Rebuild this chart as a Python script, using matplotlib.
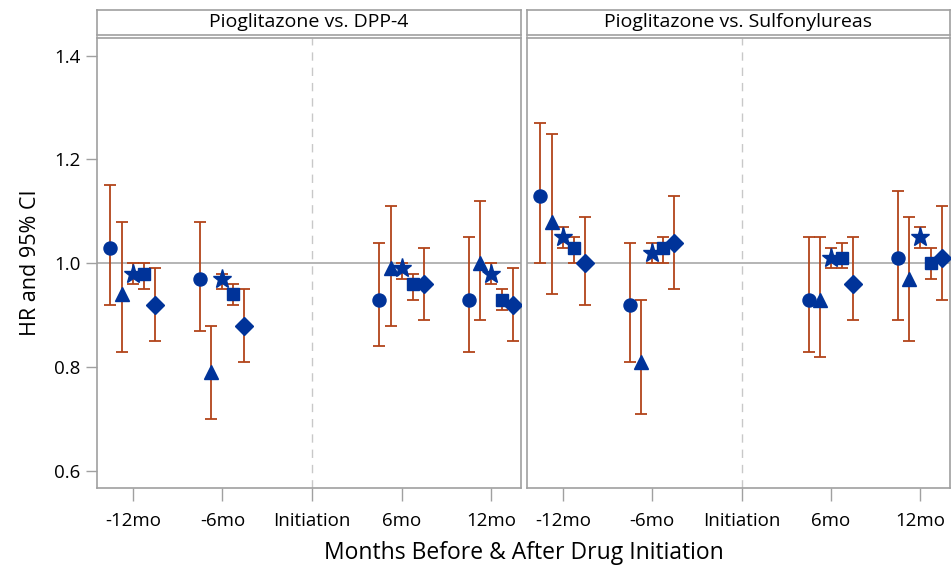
import numpy as np
import matplotlib
matplotlib.use('Agg')
import matplotlib.pyplot as plt

plt.rcParams['font.family'] = ['Open Sans', 'DejaVu Sans']

time_labels = ['-12mo', '-6mo', 'Initiation', '6mo', '12mo']
time_pos = [1, 2, 4, 5]          # -12mo, -6mo, 6mo, 12mo (no estimate at initiation)
panels = ['Pioglitazone vs. DPP-4', 'Pioglitazone vs. Sulfonylureas']

# one row per marker series (circle, triangle, star, square, diamond)
# columns follow time_pos
dpp4_hr = [[1.03, 0.97, 0.93, 0.93],
           [0.94, 0.79, 0.99, 1.00],
           [0.98, 0.97, 0.99, 0.98],
           [0.98, 0.94, 0.96, 0.93],
           [0.92, 0.88, 0.96, 0.92]]
dpp4_lo = [[0.92, 0.87, 0.84, 0.83],
           [0.83, 0.70, 0.88, 0.89],
           [0.96, 0.95, 0.97, 0.96],
           [0.95, 0.92, 0.93, 0.91],
           [0.85, 0.81, 0.89, 0.85]]
dpp4_hi = [[1.15, 1.08, 1.04, 1.05],
           [1.08, 0.88, 1.11, 1.12],
           [1.00, 0.98, 1.00, 1.00],
           [1.00, 0.96, 0.98, 0.95],
           [0.99, 0.95, 1.03, 0.99]]

su_hr = [[1.13, 0.92, 0.93, 1.01],
         [1.08, 0.81, 0.93, 0.97],
         [1.05, 1.02, 1.01, 1.05],
         [1.03, 1.03, 1.01, 1.00],
         [1.00, 1.04, 0.96, 1.01]]
su_lo = [[1.00, 0.81, 0.83, 0.89],
         [0.94, 0.71, 0.82, 0.85],
         [1.03, 1.00, 0.99, 1.03],
         [1.00, 1.00, 0.99, 0.97],
         [0.92, 0.95, 0.89, 0.93]]
su_hi = [[1.27, 1.04, 1.05, 1.14],
         [1.25, 0.93, 1.05, 1.09],
         [1.07, 1.04, 1.03, 1.07],
         [1.05, 1.05, 1.04, 1.03],
         [1.09, 1.13, 1.05, 1.11]]

data = [(dpp4_hr, dpp4_lo, dpp4_hi), (su_hr, su_lo, su_hi)]

markers = ['o', '^', '*', 's', 'D']
msizes = [9.4, 9.8, 14, 8.8, 9.2]
offsets = [-0.25, -0.125, 0.0, 0.12, 0.245]
mcol = '#003399'
ecol = '#B2441A'
gcol = '#A0A0A0'

W, H = 952, 572
fig = plt.figure(figsize=(W / 100, H / 100), dpi=100)

panel_px = [(97, 521), (527, 950)]
top, bot = 37.5, 488
for k, (x0, x1) in enumerate(panel_px):
    ax = fig.add_axes([x0 / W, (H - bot) / H, (x1 - x0) / W, (bot - top) / H])
    hr, lo, hi = [np.array(a) for a in data[k]]
    ax.axhline(1.0, color=gcol, lw=1.1, zorder=1)
    ax.axvline(3, color='#C8C8C8', lw=1, ls=(0, (6, 5)), zorder=1)
    for i in range(5):
        x = np.array(time_pos) + offsets[i]
        ax.errorbar(x, hr[i], yerr=[hr[i] - lo[i], hi[i] - hr[i]], fmt='none',
                    ecolor=ecol, elinewidth=1.3, capsize=4.5, capthick=1.3, zorder=2)
        ax.plot(x, hr[i], ls='none', marker=markers[i], ms=msizes[i],
                color=mcol, mec=mcol, zorder=3)
    ax.set_xlim(0.6, 5.33)
    ax.set_ylim(0.567, 1.435)
    ax.set_xticks(range(1, 6))
    ax.set_xticklabels(time_labels, fontsize=13.5)
    ax.tick_params(axis='x', length=9, width=1, color=gcol, pad=8)
    if k == 0:
        ax.set_yticks([0.6, 0.8, 1.0, 1.2, 1.4])
        ax.set_yticklabels(['0.6', '0.8', '1.0', '1.2', '1.4'], fontsize=13.5)
        ax.tick_params(axis='y', length=8, width=1, color=gcol, pad=4)
        ax.set_ylabel('HR and 95% CI', fontsize=15.5, labelpad=9)
    else:
        ax.set_yticks([])
    for s in ax.spines.values():
        s.set_color(gcol)
        s.set_linewidth(1.2)
    # header strip
    sx = fig.add_axes([x0 / W, (H - 34.5) / H, (x1 - x0) / W, 24.5 / H])
    sx.set_xticks([])
    sx.set_yticks([])
    for s in sx.spines.values():
        s.set_color(gcol)
        s.set_linewidth(1.2)
    sx.text(0.5, 0.5, panels[k], ha='center', va='center', fontsize=14,
            transform=sx.transAxes)

fig.text(524 / W, 1 - 553 / H, 'Months Before & After Drug Initiation',
         ha='center', va='center', fontsize=16.5)

fig.savefig('out.png', dpi=100)
